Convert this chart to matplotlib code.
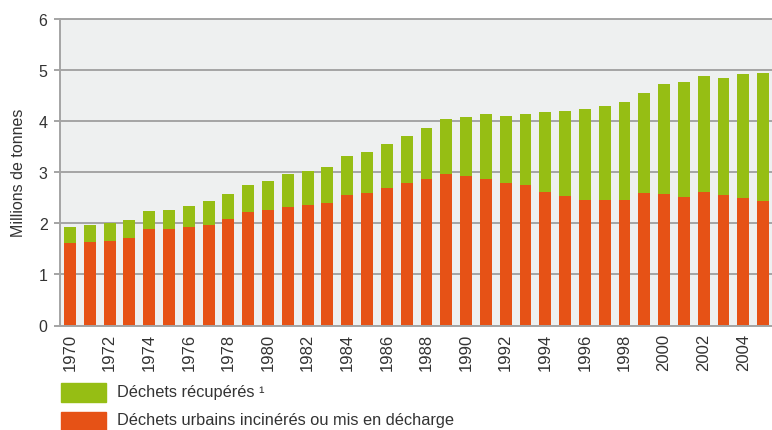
import matplotlib
matplotlib.use("Agg")
import matplotlib.pyplot as plt
from matplotlib.patches import Rectangle

plt.rcParams["font.family"] = ["Liberation Sans", "DejaVu Sans"]

# Années
years = list(range(1970, 2006))

# Déchets urbains incinérés ou mis en décharge (millions de tonnes)
incineres = [1.61, 1.63, 1.66, 1.71, 1.89, 1.89, 1.93, 1.97, 2.08, 2.22,
             2.27, 2.31, 2.35, 2.39, 2.55, 2.59, 2.70, 2.78, 2.86, 2.97,
             2.92, 2.86, 2.78, 2.75, 2.61, 2.54, 2.46, 2.45, 2.45, 2.59,
             2.57, 2.52, 2.62, 2.56, 2.49, 2.44]

# Déchets récupérés (millions de tonnes)
recuperes = [0.32, 0.34, 0.34, 0.35, 0.36, 0.38, 0.41, 0.47, 0.49, 0.53,
             0.55, 0.65, 0.68, 0.72, 0.77, 0.80, 0.86, 0.92, 1.01, 1.08,
             1.17, 1.28, 1.32, 1.40, 1.56, 1.66, 1.78, 1.85, 1.93, 1.96,
             2.15, 2.24, 2.26, 2.28, 2.44, 2.51]

tick_years = years[::2]

ORANGE = "#e65216"
GREEN = "#96be14"
GRID = "#a4a4a4"
TEXT = "#333333"

fig = plt.figure(figsize=(7.72, 4.31), dpi=100)
ax = fig.add_axes([60 / 772, 1 - 326.5 / 431, 712 / 772, 306.5 / 431])
ax.set_facecolor("#eef0f0")

x = list(range(len(years)))
ax.bar(x, incineres, width=0.6, color=ORANGE, zorder=2)
ax.bar(x, recuperes, width=0.6, bottom=incineres, color=GREEN, zorder=2)

ax.set_xlim(-0.505, 35.45)
ax.set_ylim(0, 6)
ax.set_yticks(range(0, 7))
ax.yaxis.grid(True, color=GRID, linewidth=1.4)
ax.set_axisbelow(True)

ax.set_xticks([years.index(y) for y in tick_years])
ax.set_xticklabels([str(y) for y in tick_years], rotation=90, fontsize=12, color=TEXT)
ax.tick_params(axis="x", length=0, pad=5)
ax.tick_params(axis="y", length=4, width=1.4, color=GRID, pad=5, labelsize=11.5, labelcolor=TEXT)

ax.spines["right"].set_visible(False)
for side in ["left", "bottom", "top"]:
    ax.spines[side].set_color(GRID)
    ax.spines[side].set_linewidth(1.4)

ax.set_ylabel("Millions de tonnes", fontsize=11.5, color=TEXT, labelpad=9)

# Légende manuelle sous le graphique
fig.add_artist(Rectangle((61 / 772, 1 - 403 / 431), 45 / 772, 19 / 431,
                         transform=fig.transFigure, color=GREEN))
fig.add_artist(Rectangle((61 / 772, 1 - 432 / 431), 45 / 772, 19 / 431,
                         transform=fig.transFigure, color=ORANGE))
fig.text(117 / 772, 1 - 393 / 431, "Déchets récupérés \u00b9", fontsize=11.8,
         color=TEXT, va="center")
fig.text(117 / 772, 1 - 421 / 431, "Déchets urbains incinérés ou mis en décharge",
         fontsize=11.8, color=TEXT, va="center")

fig.savefig("out.png", dpi=100)
